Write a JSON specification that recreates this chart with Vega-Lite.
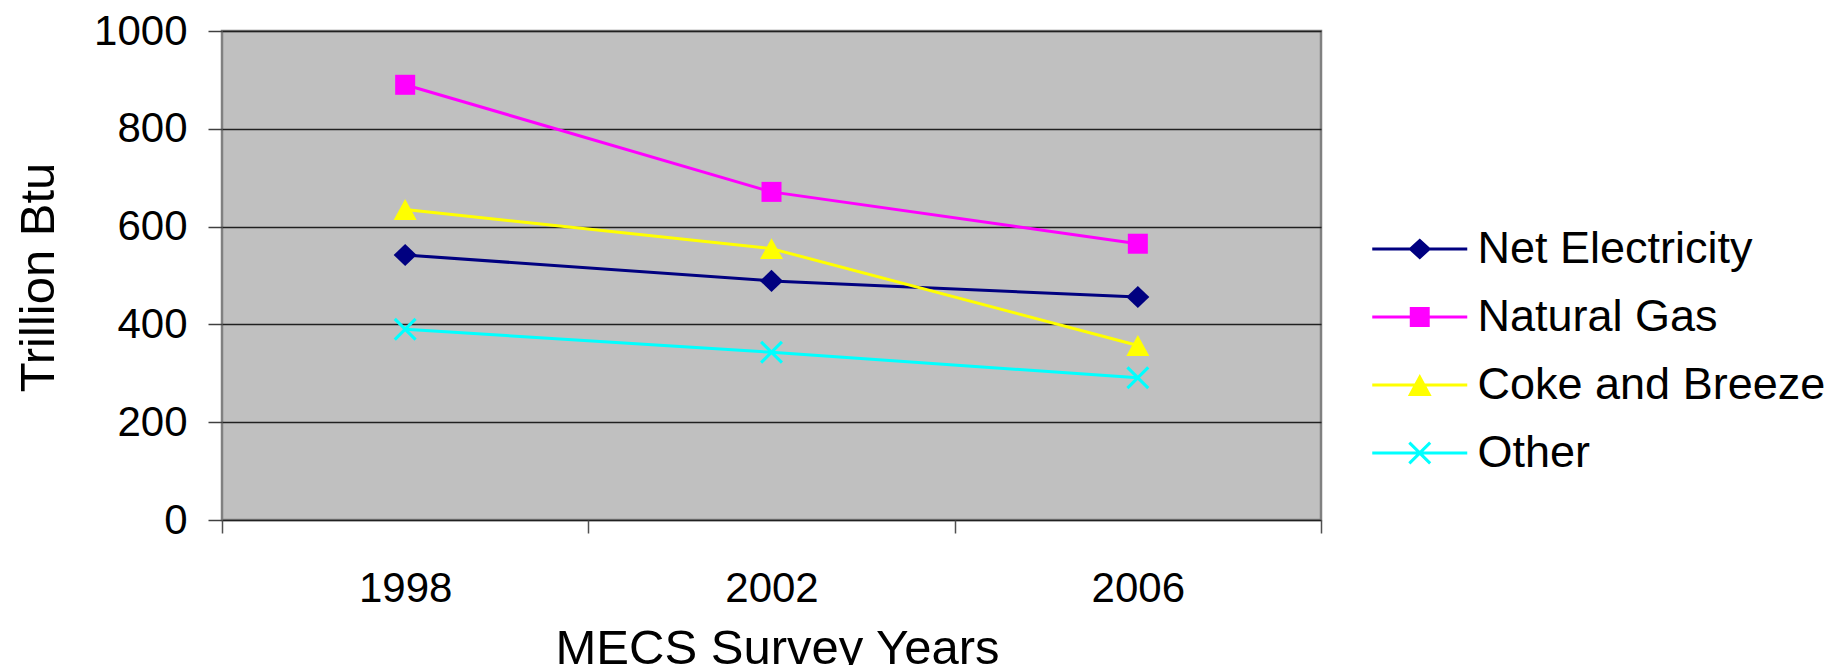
{
  "$schema": "https://vega.github.io/schema/vega-lite/v6.json",
  "width": 1099,
  "height": 489,
  "autosize": {"type": "none"},
  "padding": {"left": 222, "top": 31, "right": 507, "bottom": 145},
  "background": "#FFFFFF",
  "config": {
    "font": "Liberation Sans",
    "view": {"fill": "#C0C0C0", "stroke": "#808080", "strokeWidth": 2.5}
  },
  "data": {
    "values": [
      {"year": "1998", "series": "Net Electricity", "value": 542},
      {"year": "2002", "series": "Net Electricity", "value": 489},
      {"year": "2006", "series": "Net Electricity", "value": 456},
      {"year": "1998", "series": "Natural Gas", "value": 890},
      {"year": "2002", "series": "Natural Gas", "value": 671},
      {"year": "2006", "series": "Natural Gas", "value": 565},
      {"year": "1998", "series": "Coke and Breeze", "value": 635},
      {"year": "2002", "series": "Coke and Breeze", "value": 555},
      {"year": "2006", "series": "Coke and Breeze", "value": 357},
      {"year": "1998", "series": "Other", "value": 390},
      {"year": "2002", "series": "Other", "value": 343},
      {"year": "2006", "series": "Other", "value": 291}
    ]
  },
  "encoding": {
    "x": {
      "field": "year",
      "type": "ordinal",
      "scale": {"type": "band", "paddingInner": 0, "paddingOuter": 0},
      "axis": {
        "title": "MECS Survey Years",
        "titleFontSize": 49,
        "titleFontWeight": "normal",
        "titleColor": "#000000",
        "titleBaseline": "alphabetic",
        "titleY": 143,
        "titleX": 555,
        "labelAngle": 0,
        "labelFontSize": 42,
        "labelColor": "#000000",
        "labelPadding": 35,
        "tickBand": "extent",
        "tickSize": 13,
        "tickColor": "#505050",
        "tickWidth": 1.5,
        "domain": false,
        "grid": false
      }
    },
    "y": {
      "field": "value",
      "type": "quantitative",
      "scale": {"domain": [0, 1000], "nice": false},
      "axis": {
        "title": "Trillion Btu",
        "titleFontSize": 49,
        "titleFontWeight": "normal",
        "titleColor": "#000000",
        "titleBaseline": "alphabetic",
        "titleX": -169,
        "titleY": 246,
        "values": [0, 200, 400, 600, 800, 1000],
        "format": "d",
        "labelFontSize": 42,
        "labelColor": "#000000",
        "labelPadding": 21,
        "tickSize": 14,
        "tickColor": "#404040",
        "tickWidth": 1.5,
        "domain": false,
        "grid": true,
        "gridColor": "#202020",
        "gridWidth": 1.3
      }
    }
  },
  "layer": [
    {
      "mark": {"type": "line", "strokeWidth": 3},
      "encoding": {
        "color": {
          "field": "series",
          "type": "nominal",
          "scale": {
            "domain": ["Net Electricity", "Natural Gas", "Coke and Breeze", "Other"],
            "range": ["#000080", "#FF00FF", "#FFFF00", "#00FFFF"]
          },
          "legend": null
        }
      }
    },
    {
      "mark": {"type": "point", "filled": true, "opacity": 1, "size": 529, "strokeWidth": 0},
      "encoding": {
        "color": {
          "field": "series",
          "type": "nominal",
          "scale": {
            "domain": ["Net Electricity", "Natural Gas", "Coke and Breeze", "Other"],
            "range": ["#000080", "#FF00FF", "#FFFF00", "#00FFFF"]
          },
          "legend": null
        },
        "shape": {
          "field": "series",
          "type": "nominal",
          "scale": {
            "domain": ["Net Electricity", "Natural Gas", "Coke and Breeze", "Other"],
            "range": [
              "M0,-0.96L1,0L0,0.96L-1,0Z",
              "M-0.87,-0.87H0.87V0.87H-0.87Z",
              "M0,-0.91L1,0.91L-1,0.91Z",
              "M-0.81,-1L0,-0.19L0.81,-1L1,-0.81L0.19,0L1,0.81L0.81,1L0,0.19L-0.81,1L-1,0.81L-0.19,0L-1,-0.81Z"
            ]
          },
          "legend": null
        }
      }
    },
    {
      "mark": {"type": "point", "filled": true, "opacity": 0, "size": 2256.25, "strokeWidth": 0},
      "encoding": {
        "color": {
          "field": "series",
          "type": "nominal",
          "scale": {
            "domain": ["Net Electricity", "Natural Gas", "Coke and Breeze", "Other"],
            "range": ["#000080", "#FF00FF", "#FFFF00", "#00FFFF"]
          },
          "legend": {
            "title": null,
            "orient": "none",
            "legendX": 1173.75,
            "legendY": 194,
            "padding": 0,
            "symbolSize": 2256.25,
            "symbolOpacity": 1,
            "symbolStrokeWidth": 0,
            "labelFontSize": 45,
            "labelColor": "#000000",
            "labelOffset": 33.75,
            "labelLimit": 1000,
            "rowPadding": 21
          }
        },
        "shape": {
          "field": "series",
          "type": "nominal",
          "scale": {
            "domain": ["Net Electricity", "Natural Gas", "Coke and Breeze", "Other"],
            "range": [
              "M-2,-0.064H2V0.064H-2ZM0,-0.442L0.484,0L0,0.442L-0.484,0Z",
              "M-2,-0.064H2V0.064H-2ZM-0.42,-0.42H0.42V0.42H-0.42Z",
              "M-2,-0.064H2V0.064H-2ZM0,-0.46L0.5,0.46L-0.5,0.46Z",
              "M-2,-0.064H2V0.064H-2ZM-0.394,-0.484L0,-0.09L0.394,-0.484L0.484,-0.394L0.09,0L0.484,0.394L0.394,0.484L0,0.09L-0.394,0.484L-0.484,0.394L-0.09,0L-0.484,-0.394Z"
            ]
          },
          "legend": {
            "title": null,
            "orient": "none",
            "legendX": 1173.75,
            "legendY": 194,
            "padding": 0,
            "symbolSize": 2256.25,
            "symbolOpacity": 1,
            "symbolStrokeWidth": 0,
            "labelFontSize": 45,
            "labelColor": "#000000",
            "labelOffset": 33.75,
            "labelLimit": 1000,
            "rowPadding": 21
          }
        }
      }
    }
  ],
  "resolve": {
    "scale": {"shape": "independent", "color": "independent"},
    "legend": {"shape": "independent", "color": "independent"}
  }
}
